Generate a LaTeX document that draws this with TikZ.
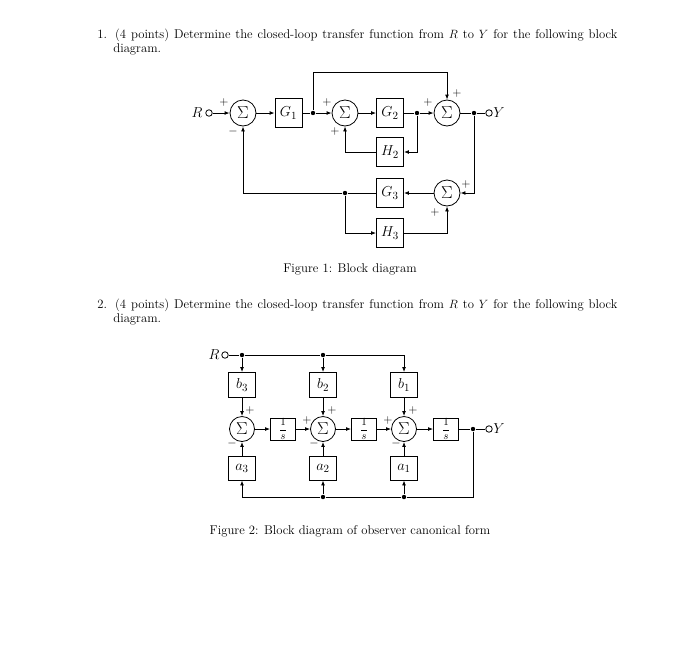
\documentclass[tikz,border=0pt]{standalone}
\usepackage{amsmath,amssymb}
\usepackage{xcolor}
\usepackage{tikz}
\usetikzlibrary{arrows.meta, positioning, calc}

\tikzset{
  blk/.style={draw, minimum width=27pt, minimum height=29pt, inner sep=0pt, font=\fontsize{15}{16}\selectfont},
  sumnode/.style={draw, circle, minimum size=26pt, inner sep=0pt, font=\fontsize{16}{16}\selectfont},
  intblk/.style={blk, minimum width=25pt, minimum height=21pt, font=\fontsize{11}{11}\selectfont},
  dot/.style={circle, fill, inner sep=0pt, minimum size=4.4pt},
  term/.style={circle, draw, fill=white, inner sep=0pt, minimum size=6.5pt},
  sig/.style={-{Latex[length=5pt,width=3.8pt]}},
  sgn/.style={inner sep=0pt, font=\fontsize{12}{12}\selectfont},
  lbl/.style={inner sep=0pt, font=\fontsize{14}{14}\selectfont},
  bodytext/.style={inner sep=0pt, anchor=base west, font=\fontsize{12.7}{14}\selectfont},
}

\begin{document}
\begin{tikzpicture}[x=1pt, y=-1pt, line width=0.8pt]
  \useasboundingbox[fill=white] (0,0) rectangle (700,648);

  % question texts
  \node[bodytext] (q1a) at (97,38) {\makebox[520pt][s]{1. (4 points) Determine the closed-loop transfer function from $R$ to $Y$ for the following block}};
  \node[bodytext] (q1b) at (113,52) {diagram.};
  \node[bodytext] (q2a) at (97,308) {\makebox[520pt][s]{2. (4 points) Determine the closed-loop transfer function from $R$ to $Y$ for the following block}};
  \node[bodytext] (q2b) at (113,322) {diagram.};

  % figure 1
  \node[lbl] (rin) at (197,113) {$R$};
  \node[term] (tin) at (209,113) {};
  \node[sumnode] (s1) at (243,113) {$\Sigma$};
  \node[blk] (g1) at (288.5,113) {$G_1$};
  \node[dot] (j1) at (313,113) {};
  \node[sumnode] (s2) at (345,113) {$\Sigma$};
  \node[blk] (g2) at (390,113) {$G_2$};
  \node[dot] (j2) at (417,113) {};
  \node[sumnode] (s3) at (447,113) {$\Sigma$};
  \node[dot] (j3) at (474,113) {};
  \node[term] (tout) at (489,113) {};
  \node[lbl, anchor=west] (yout) at (493,113) {$Y$};
  \node[blk] (h2) at (390,152) {$H_2$};
  \node[blk] (g3) at (390,193) {$G_3$};
  \node[sumnode] (s4) at (447,193) {$\Sigma$};
  \node[dot] (j4) at (345,193) {};
  \node[blk] (h3) at (390,233) {$H_3$};
  \coordinate (top) at (313,72);

  \draw[sig] (tin) -- (s1);
  \draw[sig] (s1) -- (g1);
  \draw (g1) -- (j1);
  \draw[sig] (j1) -- (s2);
  \draw[sig] (s2) -- (g2);
  \draw (g2) -- (j2);
  \draw[sig] (j2) -- (s3);
  \draw (s3) -- (j3) -- (tout);
  \draw[sig] (j1) -- (top) -| (s3.north);
  \draw[sig] (j2) |- (h2.east);
  \draw[sig] (h2.west) -| (s2.south);
  \draw[sig] (j3) |- (s4.east);
  \draw[sig] (s4) -- (g3);
  \draw (g3) -- (j4);
  \draw[sig] (j4) -| (s1.south);
  \draw[sig] (j4) |- (h3.west);
  \draw[sig] (h3.east) -| (s4.south);

  \node[sgn] at (224,102) {$+$};
  \node[sgn] at (233,131) {$-$};
  \node[sgn] at (327,102) {$+$};
  \node[sgn] at (335,131) {$+$};
  \node[sgn] at (428,102) {$+$};
  \node[sgn] at (457,93) {$+$};
  \node[sgn] at (466,184) {$+$};
  \node[sgn] at (435,212) {$+$};

  \node[bodytext, anchor=base] (cap1) at (350,272) {Figure 1: Block diagram};

  % figure 2
  \node[lbl] (rin2) at (214,355) {$R$};
  \node[term] (tin2) at (225,355) {};
  \node[dot] (j5) at (242,355) {};
  \node[dot] (j6) at (323,355) {};
  \coordinate (c1) at (404,355);
  \node[blk, minimum height=25pt] (b3) at (242,385) {$b_3$};
  \node[blk, minimum height=25pt] (b2) at (323,385) {$b_2$};
  \node[blk, minimum height=25pt] (b1) at (404,385) {$b_1$};
  \node[sumnode, minimum size=25pt] (sa) at (242,429) {$\Sigma$};
  \node[sumnode, minimum size=25pt] (sb) at (323,429) {$\Sigma$};
  \node[sumnode, minimum size=25pt] (sc) at (404,429) {$\Sigma$};
  \node[intblk] (i1) at (283,429) {$\dfrac{1}{s}$};
  \node[intblk] (i2) at (364,429) {$\dfrac{1}{s}$};
  \node[intblk] (i3) at (446,429) {$\dfrac{1}{s}$};
  \node[dot] (j7) at (473,429) {};
  \node[term] (tout2) at (489,429) {};
  \node[lbl, anchor=west] (yout2) at (493,429) {$Y$};
  \node[blk, minimum height=24pt] (a3) at (242,468) {$a_3$};
  \node[blk, minimum height=24pt] (a2) at (323,468) {$a_2$};
  \node[blk, minimum height=24pt] (a1) at (404,468) {$a_1$};
  \coordinate (c2) at (473,497);
  \node[dot] (j9) at (404,497) {};
  \node[dot] (j8) at (323,497) {};
  \coordinate (c3) at (242,497);

  \draw[sig] (tin2) -- (j5) -- (j6) -- (c1) -- (b1.north);
  \draw[sig] (j5) -- (b3.north);
  \draw[sig] (j6) -- (b2.north);
  \draw[sig] (b3) -- (sa);
  \draw[sig] (b2) -- (sb);
  \draw[sig] (b1) -- (sc);
  \draw[sig] (sa) -- (i1);
  \draw[sig] (i1) -- (sb);
  \draw[sig] (sb) -- (i2);
  \draw[sig] (i2) -- (sc);
  \draw[sig] (sc) -- (i3);
  \draw (i3) -- (j7) -- (tout2);
  \draw[sig] (j7) -- (c2) -- (j9) -- (j8) -- (c3) -- (a3.south);
  \draw[sig] (j8) -- (a2.south);
  \draw[sig] (j9) -- (a1.south);
  \draw[sig] (a3) -- (sa);
  \draw[sig] (a2) -- (sb);
  \draw[sig] (a1) -- (sc);

  \node[sgn] at (250,410) {$+$};
  \node[sgn] at (232,443) {$-$};
  \node[sgn] at (307,420) {$+$};
  \node[sgn] at (332,410) {$+$};
  \node[sgn] at (314,443) {$-$};
  \node[sgn] at (388,420) {$+$};
  \node[sgn] at (413,410) {$+$};
  \node[sgn] at (396,443) {$-$};

  \node[bodytext, anchor=base] (cap2) at (350,534) {Figure 2: Block diagram of observer canonical form};
\end{tikzpicture}
\end{document}
